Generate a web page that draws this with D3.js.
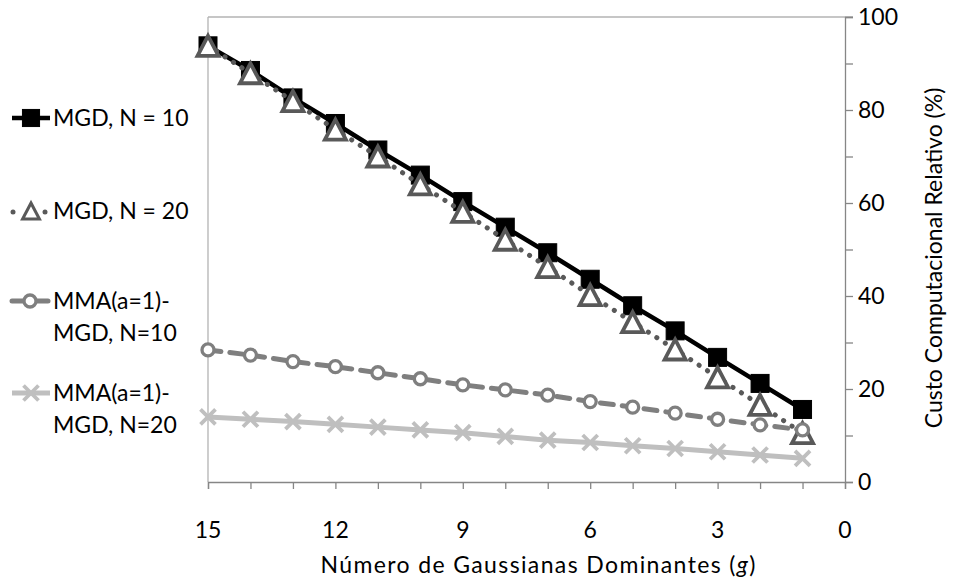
<!DOCTYPE html>
<html>
<head>
<meta charset="utf-8">
<script src="https://cdn.jsdelivr.net/npm/d3@7"></script>
<style>
  html, body { margin: 0; padding: 0; background: #fff; }
  svg { display: block; font-family: Lato, "Open Sans", sans-serif; }
</style>
</head>
<body>
<svg id="chart" width="956" height="585"></svg>
<script>
// ---- data ----
const gValues = [15, 14, 13, 12, 11, 10, 9, 8, 7, 6, 5, 4, 3, 2, 1];
const mgdN10 = [93.8, 88.5, 82.6, 77.1, 71.4, 66.0, 60.3, 54.8, 49.3, 43.6, 37.9, 32.5, 26.8, 21.2, 15.6];
const mgdN20 = [93.8, 87.9, 81.9, 75.8, 70.0, 64.0, 58.1, 52.1, 46.2, 40.2, 34.4, 28.5, 22.5, 16.6, 10.5];
const mmaN10 = [28.4, 27.3, 25.9, 24.8, 23.5, 22.2, 20.9, 19.8, 18.7, 17.3, 16.1, 14.8, 13.5, 12.3, 11.2];
const mmaN20 = [14.0, 13.5, 13.0, 12.4, 11.8, 11.2, 10.6, 9.8, 9.0, 8.5, 7.8, 7.2, 6.5, 5.8, 5.1];
const xTickLabels = [15, 12, 9, 6, 3, 0];
const yTickLabels = [0, 20, 40, 60, 80, 100];
const seriesNames = [["MGD, N = 10"], ["MGD, N = 20"], ["MMA(a=1)-", "MGD, N=10"], ["MMA(a=1)-", "MGD, N=20"]];
const xTitle = "Número de Gaussianas Dominantes (";
const yTitle = "Custo Computacional Relativo (%)";

const series = [
  { name: seriesNames[0], values: mgdN10, color: "#000000", marker: "square", dash: null, cap: "butt", width: 4.5 },
  { name: seriesNames[1], values: mgdN20, color: "#595959", marker: "triangle", dash: "0.1 10", cap: "round", width: 5 },
  { name: seriesNames[2], values: mmaN10, color: "#7f7f7f", marker: "circle", dash: "13 9", cap: "round", width: 5 },
  { name: seriesNames[3], values: mmaN20, color: "#bfbfbf", marker: "cross", dash: null, cap: "butt", width: 5 }
];

const svg = d3.select("#chart");
const x = d3.scaleLinear().domain([15, 0]).range([208, 845]);
const y = d3.scaleLinear().domain([0, 100]).range([482, 17]);

const FONT = 23;

// plot border (top and left)
svg.append("line").attr("x1", x(15)).attr("x2", x(0) + 8).attr("y1", y(100)).attr("y2", y(100))
  .attr("stroke", "#b3b3b3").attr("stroke-width", 1.3);
svg.append("line").attr("x1", x(15)).attr("x2", x(15)).attr("y1", y(100)).attr("y2", y(0))
  .attr("stroke", "#b3b3b3").attr("stroke-width", 1.3);

// right axis
const yAxis = d3.axisRight(y).tickValues(d3.range(0, 101, 10)).tickSize(8).tickFormat("");
const gy = svg.append("g").attr("transform", `translate(${x(0)},0)`).call(yAxis);
gy.select(".domain").attr("stroke", "#868686").attr("stroke-width", 1.3);
gy.selectAll(".tick line").attr("stroke", "#868686").attr("stroke-width", 1.3);

svg.append("g").selectAll("text").data(yTickLabels).join("text")
  .attr("x", x(0) + 13).attr("y", d => y(d)).attr("dy", "0.36em")
  .attr("font-size", FONT).attr("fill", "#000").text(d => d);

// bottom axis
const xAxis = d3.axisBottom(x).tickValues(d3.range(0, 16, 1)).tickSize(7).tickFormat("");
const gx = svg.append("g").attr("transform", `translate(0,${y(0)})`).call(xAxis);
gx.select(".domain").attr("stroke", "#868686").attr("stroke-width", 1.3);
gx.selectAll(".tick line").attr("stroke", "#868686").attr("stroke-width", 1.3);

svg.append("g").selectAll("text").data(xTickLabels).join("text")
  .attr("x", d => x(d)).attr("y", 538).attr("text-anchor", "middle")
  .attr("font-size", FONT).attr("fill", "#000").text(d => d);

// axis titles
const xt = svg.append("text").attr("x", 538).attr("y", 573).attr("text-anchor", "middle")
  .attr("font-size", FONT).attr("fill", "#000")
  .attr("textLength", 435).attr("lengthAdjust", "spacing");
xt.append("tspan").text(xTitle);
xt.append("tspan").attr("font-style", "italic").text("g");
xt.append("tspan").text(")");

svg.append("text").attr("transform", `translate(942,258) rotate(-90)`).attr("text-anchor", "middle")
  .attr("font-size", FONT).attr("fill", "#000").text(yTitle);

// markers
function drawMarker(g, type, cx, cy, color, scale) {
  scale = scale || 1;
  if (type === "square") {
    const s = 18 * scale;
    g.append("rect").attr("x", cx - s / 2).attr("y", cy - s / 2).attr("width", s).attr("height", s)
      .attr("fill", color).attr("stroke", color).attr("stroke-width", 1);
  } else if (type === "triangle") {
    const w = 21 * scale, h = 20 * scale;
    g.append("path").attr("d", `M${cx},${cy - h / 2}L${cx + w / 2},${cy + h / 2}L${cx - w / 2},${cy + h / 2}Z`)
      .attr("fill", "#fff").attr("stroke", color).attr("stroke-width", 3.8 * scale).attr("stroke-linejoin", "miter");
  } else if (type === "circle") {
    g.append("circle").attr("cx", cx).attr("cy", cy).attr("r", 6 * scale)
      .attr("fill", "#fff").attr("stroke", color).attr("stroke-width", 3.3);
  } else if (type === "cross") {
    const s = 7.5 * scale;
    g.append("path").attr("d", `M${cx - s},${cy - s}L${cx + s},${cy + s}M${cx - s},${cy + s}L${cx + s},${cy - s}`)
      .attr("stroke", color).attr("stroke-width", 3.8).attr("fill", "none");
  }
}

const line = d3.line().x((d, i) => x(gValues[i])).y(d => y(d));
const plot = svg.append("g");
series.forEach(s => {
  const sg = plot.append("g");
  sg.append("path").datum(s.values).attr("d", line).attr("fill", "none")
    .attr("stroke", s.color).attr("stroke-width", s.width)
    .attr("stroke-dasharray", s.dash).attr("stroke-linecap", s.cap).attr("stroke-linejoin", "round");
  s.values.forEach((v, i) => drawMarker(sg, s.marker, x(gValues[i]), y(v), s.color, 1));
});

// legend
const legendY = [118, 211, 301, 393];
const leg = svg.append("g");
series.forEach((s, k) => {
  const ly = legendY[k];
  const lg = leg.append("g");
  if (s.marker === "triangle") {
    lg.append("circle").attr("cx", 13).attr("cy", ly + 1).attr("r", 2.5).attr("fill", s.color);
    lg.append("circle").attr("cx", 45).attr("cy", ly + 1).attr("r", 2.5).attr("fill", s.color);
    drawMarker(lg, s.marker, 31, ly, s.color, 0.8);
  } else if (s.marker === "circle") {
    lg.append("line").attr("x1", 12).attr("x2", 24).attr("y1", ly).attr("y2", ly)
      .attr("stroke", s.color).attr("stroke-width", s.width).attr("stroke-linecap", "round");
    lg.append("line").attr("x1", 36).attr("x2", 48).attr("y1", ly).attr("y2", ly)
      .attr("stroke", s.color).attr("stroke-width", s.width).attr("stroke-linecap", "round");
    drawMarker(lg, s.marker, 30, ly, s.color, 1);
  } else {
    lg.append("line").attr("x1", 12).attr("x2", 50).attr("y1", ly).attr("y2", ly)
      .attr("stroke", s.color).attr("stroke-width", s.width);
    drawMarker(lg, s.marker, 31, ly, s.color, s.marker === "square" ? 0.95 : 1);
  }
  const t = lg.append("text").attr("x", 53).attr("y", ly + 8).attr("font-size", FONT).attr("fill", "#000");
  s.name.forEach((nm, j) => {
    t.append("tspan").attr("x", 53).attr("dy", j === 0 ? 0 : 31.5).text(nm);
  });
});
</script>
</body>
</html>
